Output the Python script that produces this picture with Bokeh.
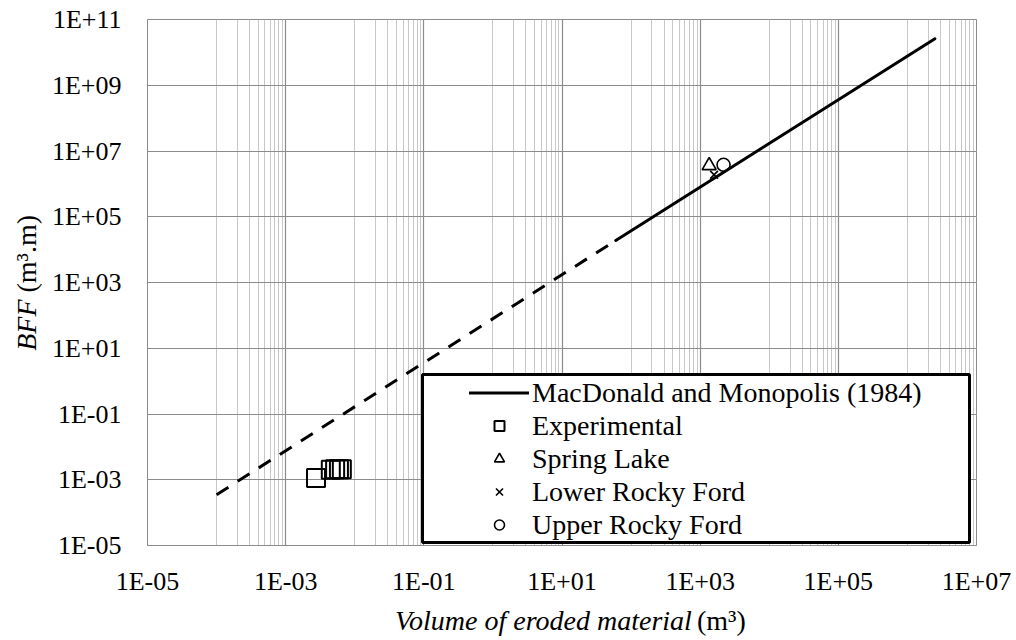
import math
from bokeh.plotting import figure
from bokeh.layouts import row, column
from bokeh.models import (FixedTicker, Legend, LegendItem, Label, BoxAnnotation,
                          ColumnDataSource, Range1d, CustomJSTickFormatter,
                          LinearAxis, LogAxis, Grid)
from bokeh.embed import file_html
from bokeh.resources import INLINE

# ---- data ----
x_tick_values = [1e-5, 1e-3, 1e-1, 1e1, 1e3, 1e5, 1e7]
x_tick_labels = ["1E-05", "1E-03", "1E-01", "1E+01", "1E+03", "1E+05", "1E+07"]
y_tick_values = [1e-5, 1e-3, 1e-1, 1e1, 1e3, 1e5, 1e7, 1e9, 1e11]
y_tick_labels = ["1E-05", "1E-03", "1E-01", "1E+01", "1E+03", "1E+05",
                 "1E+07", "1E+09", "1E+11"]

# MacDonald and Monopolis (1984) relation: dashed (extrapolated) and solid parts
dash_x = [1e-4, 60]
dash_y = [3.5e-4, 1.9e4]
solid_x = [60, 2.5e6]
solid_y = [1.9e4, 2.6e10]

exp_x = [0.00275, 0.0045, 0.0052, 0.0059, 0.0065]
exp_y = [0.00114, 0.0020, 0.0021, 0.0021, 0.0021]

spring_x = [1350]
spring_y = [3.6e6]
lower_x = [1590]
lower_y = [1.9e6]
upper_x = [2180]
upper_y = [3.8e6]

# minor grid: 1..9 x 10^n for the odd decades (Excel base-100 style)
x_minor_grid = [k * 10.0 ** n for n in (-4, -2, 0, 2, 4, 6) for k in range(1, 10)]

FONT = "Liberation Serif"
AXIS_FONT = "Times New Roman"
MAJOR = "#8c8c8c"
MINOR = "#c8c8c8"

YT_W = 48          # width of the strip holding the y title
MAIN_W, MAIN_H = 964, 598
XT_H = 40          # height of the strip holding the x title
TOTAL_H = MAIN_H + XT_H

p = figure(width=MAIN_W, height=MAIN_H, x_axis_type="log", y_axis_type="log",
           x_range=Range1d(1e-5, 1e7), y_range=Range1d(1e-5, 1e11),
           x_axis_location=None, y_axis_location=None,
           output_backend="svg", toolbar_location=None,
           min_border_left=97, min_border_right=36,
           min_border_top=19, min_border_bottom=50,
           background_fill_color="white", border_fill_color="white")

xt = FixedTicker(ticks=x_tick_values, minor_ticks=x_minor_grid)
yt = FixedTicker(ticks=y_tick_values, minor_ticks=[])

JS = """
for (let i = 0; i < vals.length; i++) {
  if (Math.abs(Math.log10(vals[i]) - Math.log10(tick)) < 1e-6) return labs[i];
}
return "";
"""

axis_style = dict(axis_line_color=MAJOR, axis_line_width=1,
                  major_tick_line_color=None, minor_tick_line_color=None,
                  major_tick_out=0, major_tick_in=0,
                  major_label_text_font=AXIS_FONT,
                  major_label_text_font_size="26px",
                  major_label_text_color="black")

xaxis = LogAxis(ticker=xt,
                formatter=CustomJSTickFormatter(args=dict(vals=x_tick_values, labs=x_tick_labels), code=JS),
                major_label_standoff=17, **axis_style)
p.add_layout(xaxis, "below")
yaxis = LogAxis(ticker=yt,
                formatter=CustomJSTickFormatter(args=dict(vals=y_tick_values, labs=y_tick_labels), code=JS),
                major_label_standoff=26, **axis_style)
p.add_layout(yaxis, "left")

p.add_layout(Grid(dimension=0, ticker=xt, grid_line_color=MAJOR, grid_line_width=1.2,
                  minor_grid_line_color=MINOR, minor_grid_line_width=1))
p.add_layout(Grid(dimension=1, ticker=yt, grid_line_color=MAJOR, grid_line_width=1.2))
p.outline_line_color = MAJOR
p.outline_line_width = 1

r_dash = p.line(dash_x, dash_y, line_color="black", line_width=3, line_dash="14 11")
r_solid = p.line(solid_x, solid_y, line_color="black", line_width=3, line_cap="round")

src_exp = ColumnDataSource(dict(x=exp_x, y=exp_y))
r_exp = p.scatter("x", "y", source=src_exp, marker="square", size=18,
                  fill_color=None, line_color="black", line_width=2)
r_spring = p.scatter(spring_x, spring_y, marker="triangle", size=14,
                     fill_color=None, line_color="black", line_width=1.6)
r_lower = p.scatter(lower_x, lower_y, marker="x", size=11,
                    line_color="black", line_width=1.6)
r_upper = p.scatter(upper_x, upper_y, marker="circle", size=13,
                    fill_color=None, line_color="black", line_width=1.6)

# legend frame
box = BoxAnnotation(left=275, right=822, bottom=3, top=171,
                    left_units="screen", right_units="screen",
                    bottom_units="screen", top_units="screen",
                    fill_color="white", fill_alpha=1.0,
                    line_color="black", line_width=3, line_alpha=1.0)
p.add_layout(box)

legend = Legend(items=[
    LegendItem(label="MacDonald and Monopolis (1984)", renderers=[r_solid]),
    LegendItem(label="Experimental", renderers=[r_exp]),
    LegendItem(label="Spring Lake", renderers=[r_spring]),
    LegendItem(label="Lower Rocky Ford", renderers=[r_lower]),
    LegendItem(label="Upper Rocky Ford", renderers=[r_upper]),
], location=(322, 4), padding=0, margin=0, spacing=0,
   glyph_width=60, glyph_height=25, label_height=33, label_standoff=3,
   label_text_font=FONT, label_text_font_size="28px", label_text_color="black",
   border_line_color=None, background_fill_alpha=0)
p.add_layout(legend)


def text_strip(w, h):
    f = figure(width=w, height=h, x_range=Range1d(0, w), y_range=Range1d(h, 0),
               output_backend="svg", toolbar_location=None,
               x_axis_location=None, y_axis_location=None,
               min_border=0, outline_line_color=None,
               background_fill_color="white", border_fill_color="white")
    f.grid.visible = False
    return f


# x title strip (below the main plot)
px = text_strip(MAIN_W, XT_H)
px.add_layout(Label(x=633, y=22, text="Volume of eroded material", text_font=FONT,
                    text_font_style="italic", text_font_size="28px",
                    text_align="right", text_baseline="middle", text_color="black"))
px.add_layout(Label(x=639, y=22, text="(m³)", text_font=FONT, text_font_size="28px",
                    text_align="left", text_baseline="middle", text_color="black"))

# y title strip (left of everything)
py = text_strip(YT_W, TOTAL_H)
py.add_layout(Label(x=26, y=299, text="BFF", text_font=FONT, text_font_style="italic",
                    text_font_size="28px", angle=math.pi / 2,
                    text_align="right", text_baseline="middle", text_color="black"))
py.add_layout(Label(x=26, y=292, text="(m³.m)", text_font=FONT, text_font_size="28px",
                    angle=math.pi / 2,
                    text_align="left", text_baseline="middle", text_color="black"))

layout = row(py, column(p, px, spacing=0), spacing=0)
open("out.html", "w").write(file_html(layout, INLINE))
